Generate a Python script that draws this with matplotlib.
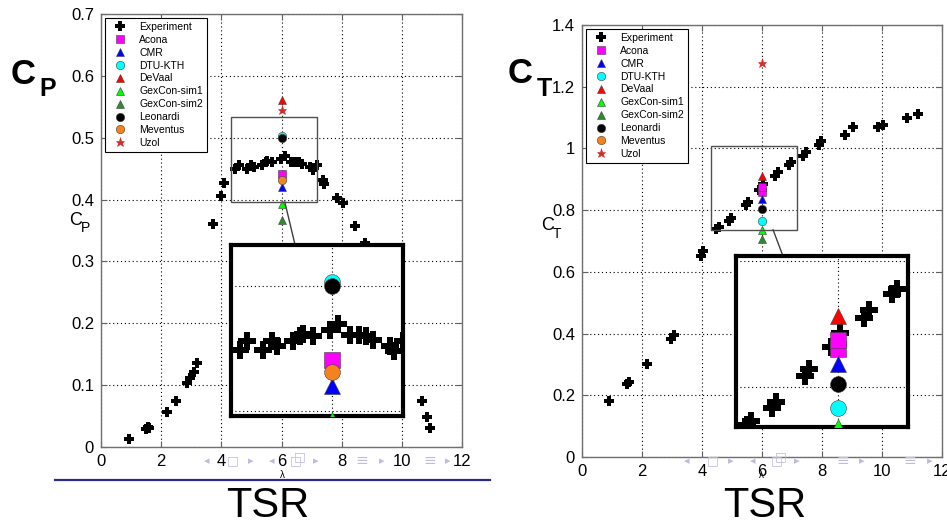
# Power and thrust coefficients vs TSR, experiment and blind test codes

import numpy as np
import matplotlib
matplotlib.use('Agg')
import matplotlib.pyplot as plt
from matplotlib.patches import Rectangle
from matplotlib.lines import Line2D
from matplotlib.ticker import FormatStrFormatter, MultipleLocator

plt.rcParams['font.family'] = ['Liberation Sans', 'DejaVu Sans']

# Experiment, power coefficient
TsrCp = [0.93, 1.50, 1.55, 1.60, 2.20, 2.49, 2.86, 2.96, 3.09, 3.19, 3.72, 3.99, 4.09,
         4.47, 4.59, 4.86, 5.00, 5.08, 5.36, 5.47, 5.52, 5.69, 5.97, 6.10, 6.30, 6.46,
         6.57, 6.68, 6.96, 7.04, 7.18, 7.38, 7.42, 7.84, 8.04, 8.44, 8.77,
         10.66, 10.83, 10.93]
Cp = [0.013, 0.029, 0.032, 0.030, 0.057, 0.074, 0.103, 0.111, 0.121, 0.136, 0.360, 0.406, 0.426,
      0.449, 0.456, 0.449, 0.456, 0.452, 0.456, 0.460, 0.462, 0.460, 0.465, 0.470, 0.461, 0.461,
      0.460, 0.457, 0.452, 0.448, 0.456, 0.432, 0.425, 0.402, 0.394, 0.357, 0.330,
      0.074, 0.048, 0.031]

# Experiment, thrust coefficient
TsrCt = [0.90, 1.50, 1.56, 2.17, 2.95, 3.05, 3.98, 4.02, 4.48, 4.55, 4.90, 4.97, 5.45, 5.52,
         5.89, 6.03, 6.43, 6.52, 6.90, 6.98, 7.35, 7.45, 7.90, 7.97, 8.77, 9.03, 9.87, 10.03,
         10.83, 11.20]
Ct = [0.181, 0.235, 0.242, 0.301, 0.383, 0.395, 0.650, 0.667, 0.740, 0.746, 0.766, 0.776, 0.818,
      0.828, 0.864, 0.885, 0.910, 0.922, 0.947, 0.955, 0.975, 0.988, 1.010, 1.025, 1.045, 1.069,
      1.070, 1.076, 1.097, 1.111]

# Blind test codes, all at TSR = 6
Codes = ['Acona', 'CMR', 'DTU-KTH', 'DeVaal', 'GexCon-sim1', 'GexCon-sim2',
         'Leonardi', 'Meventus', 'Uzol']
CodeTsr = 6.0
CodeCp = [[0.441], [0.420], [0.503], [0.561], [0.393], [0.367], [0.500], [0.431], [0.545]]
CodeCt = [[0.860, 0.875], [0.836], [0.766], [0.912], [0.736], [0.705], [0.804], [], [1.277]]

Markers = ['s', '^', 'o', '^', '^', '^', 'o', 'o', '*']
Colors = ['#ff00ff', '#0000ff', '#00ffff', '#ff0000', '#00ff00', '#2e8b2e',
          '#000000', '#f5821f', '#d42a2a']


def draw(ax, tsr, vals, codevals, big=False):
  s = 1.9 if big else 1.0
  ax.plot(tsr, vals, 'P', color='k', ms=7 * s, mew=0, label='Experiment', zorder=3)
  for c in range(len(Codes)):
    y = codevals[c]
    ms = 6 * s
    if Markers[c] == '*':
      ms = 6.5 * s
    ax.plot([CodeTsr] * len(y), y, Markers[c], color=Colors[c], ms=ms,
            mec='#404040' if Markers[c] != '*' else Colors[c], mew=0.4,
            label=Codes[c], zorder=4)


def style(ax, ystep, ymax):
  ax.set_xlim(0, 12)
  ax.set_ylim(0, ymax)
  ax.xaxis.set_major_locator(MultipleLocator(2))
  ax.yaxis.set_major_locator(MultipleLocator(ystep))
  ax.yaxis.set_major_formatter(FormatStrFormatter('%g'))
  ax.grid(True, linestyle=(0, (1, 2.5)), color='k', lw=0.8)
  ax.tick_params(direction='in', top=True, right=True, labelsize=12,
                 color='#606060', length=4, pad=5)
  for sp in ax.spines.values():
    sp.set_color('#707070')
    sp.set_linewidth(1.0)


def inset(ax, bounds, xlim, ylim, tsr, vals, codevals, ystep, link):
  ins = ax.inset_axes(bounds, transform=ax.transData)
  draw(ins, tsr, vals, codevals, big=True)
  ins.set_xlim(*xlim)
  ins.set_ylim(*ylim)
  ins.xaxis.set_major_locator(MultipleLocator(2))
  ins.yaxis.set_major_locator(MultipleLocator(ystep))
  ins.grid(True, linestyle=(0, (1, 2.5)), color='k', lw=0.8)
  ins.tick_params(length=0, labelbottom=False, labelleft=False)
  for sp in ins.spines.values():
    sp.set_color('k')
    sp.set_linewidth(3)
  ax.add_patch(Rectangle((xlim[0], ylim[0]), xlim[1] - xlim[0], ylim[1] - ylim[0],
                         fill=False, ec='#505050', lw=1.0, zorder=5))
  ax.plot(link[0], link[1], color='#404040', lw=1.0, zorder=5)


def legend(ax):
  leg = ax.legend(loc='upper left', fontsize=7.5, labelspacing=0.28, handlelength=2.2,
                  handletextpad=0.7, borderpad=0.4, borderaxespad=0.35, fancybox=False,
                  edgecolor='k', framealpha=1)
  leg.get_frame().set_linewidth(0.8)


def ftext(x, y, s, **kw):
  # place text by pixel position, y measured from the top
  fig.text(x / 947, 1 - y / 520, s, **kw)


fig = plt.figure(figsize=(9.47, 5.2), dpi=100)

# Left: power coefficient
axL = fig.add_axes([101 / 947, 73 / 520, 361 / 947, 433 / 520])
draw(axL, TsrCp, Cp, CodeCp)
style(axL, 0.1, 0.7)
legend(axL)
inset(axL, [4.32, 0.05, 5.71, 0.277], (4.32, 7.18), (0.396, 0.533),
      TsrCp, Cp, CodeCp, 0.1, ([6.11, 6.45], [0.396, 0.327]))

# Right: thrust coefficient
axR = fig.add_axes([582 / 947, 63 / 520, 360 / 947, 432 / 520])
draw(axR, TsrCt, Ct, CodeCt)
style(axR, 0.2, 1.4)
legend(axR)
inset(axR, [5.13, 0.097, 5.74, 0.554], (4.30, 7.17), (0.736, 1.008),
      TsrCt, Ct, CodeCt, 0.2, ([6.37, 6.70], [0.736, 0.651]))

# axis labels (MATLAB style, horizontal)
ftext(69, 225, 'C', fontsize=13, va='baseline')
ftext(81, 232, 'P', fontsize=10, va='baseline')
ftext(541, 230, 'C', fontsize=13, va='baseline')
ftext(553, 238, 'T', fontsize=10, va='baseline')
ftext(282, 478, 'λ', fontsize=7, ha='center', va='baseline')
ftext(761, 478, 'λ', fontsize=7, ha='center', va='baseline')

# slide decorations
ftext(11, 84, 'C', fontsize=25, fontweight='bold', va='baseline')
ftext(39, 96, 'P', fontsize=18, fontweight='bold', va='baseline')
ftext(508, 83, 'C', fontsize=25, fontweight='bold', va='baseline')
ftext(537, 96, 'T', fontsize=18, fontweight='bold', va='baseline')
ftext(268, 517, 'TSR', fontsize=30, ha='center', va='baseline')
ftext(765, 517, 'TSR', fontsize=30, ha='center', va='baseline')
fig.add_artist(Line2D([55 / 947, 490 / 947], [1 - 480 / 520, 1 - 480 / 520],
                      color='#2b2b8c', lw=1.6))

# beamer navigation symbols
NavColor = '#bcbcdc'
Nav = ['◂', '□', '▸', '◂', '□', '▸', '≡', '▸', '≡', '▸']
NavSize = [8, 9, 8, 8, 9, 8, 11, 8, 11, 8]
NavLeft = [207, 233, 251, 272, 296, 316, 362, 382, 430, 448]
NavRight = [687, 713, 731, 753, 777, 797, 843, 862, 910, 930]
for g, fs, xl, xr in zip(Nav, NavSize, NavLeft, NavRight):
  for xp in (xl, xr):
    ftext(xp, 461, g, fontsize=fs, color=NavColor, ha='center', va='center',
          family=['DejaVu Sans'])
for xp in (300, 781):
  ftext(xp, 457, '□', fontsize=9, color=NavColor, ha='center', va='center',
        family=['DejaVu Sans'])

fig.savefig('out.png', dpi=100)
